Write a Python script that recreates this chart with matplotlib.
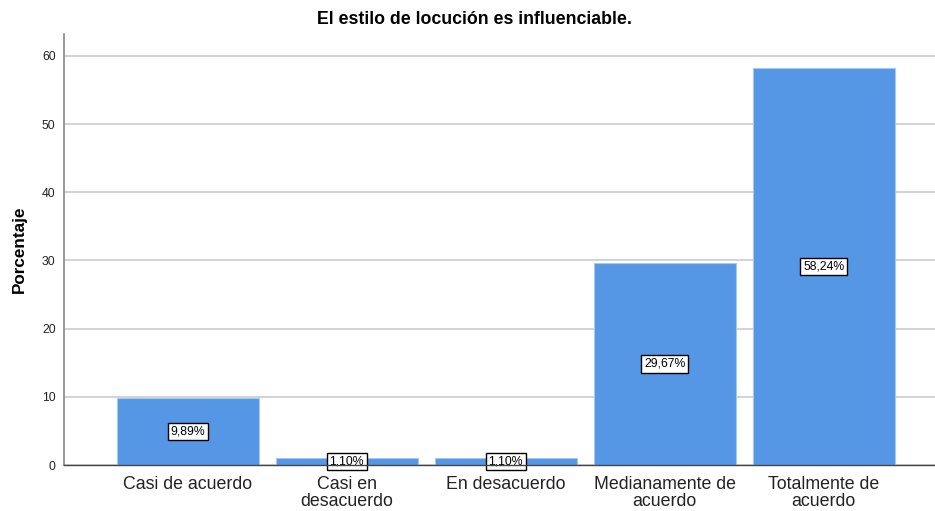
import matplotlib
matplotlib.use("Agg")
import matplotlib.pyplot as plt

categories = ["Casi de acuerdo", "Casi en\ndesacuerdo", "En desacuerdo",
              "Medianamente de\nacuerdo", "Totalmente de\nacuerdo"]
values = [9.89, 1.10, 1.10, 29.67, 58.24]
labels = ["9,89%", "1,10%", "1,10%", "29,67%", "58,24%"]
yticks = [0, 10, 20, 30, 40, 50, 60]

plt.rcParams['font.family'] = ['Liberation Sans', 'DejaVu Sans']

fig = plt.figure(figsize=(9.35, 5.11), dpi=100)
ax = fig.add_axes([0.0684, 0.09, 0.9316, 0.8435])

x = list(range(len(categories)))
ax.bar(x, values, width=0.893, color="#5596e5", edgecolor="#a9c8f0", linewidth=0.8, zorder=3)

for xi, v, lab in zip(x, values, labels):
    ax.text(xi, v / 2, lab, ha="center", va="center", fontsize=8.8, zorder=4,
            bbox=dict(boxstyle="square,pad=0.22", facecolor="white", edgecolor="black", linewidth=1.0))

ax.set_xlim(-0.78, 4.70)
ax.set_ylim(0, 63.2)
ax.set_yticks(yticks)
ax.set_yticklabels([str(t) for t in yticks], fontsize=8.8)
ax.set_xticks(x)
ax.set_xticklabels(categories, fontsize=12.8, linespacing=1.0)
ax.tick_params(axis="both", length=0, pad=6, colors="#222222")
ax.tick_params(axis="x", pad=8)
ax.grid(axis="y", color="#d0d0d0", linewidth=1.3, zorder=0)

for s in ["top", "right"]:
    ax.spines[s].set_visible(False)
ax.spines["left"].set_color("#888888")
ax.spines["left"].set_linewidth(1.2)
ax.spines["bottom"].set_color("#444444")
ax.spines["bottom"].set_linewidth(1.0)
ax.spines["bottom"].set_zorder(5)

ax.set_ylabel("Porcentaje", fontsize=12.3, fontweight="bold", labelpad=11)
fig.text(0.507, 0.962, "El estilo de locución es influenciable.", ha="center", va="center",
         fontsize=12.8, fontweight="bold")

fig.savefig("out.png", dpi=100)
